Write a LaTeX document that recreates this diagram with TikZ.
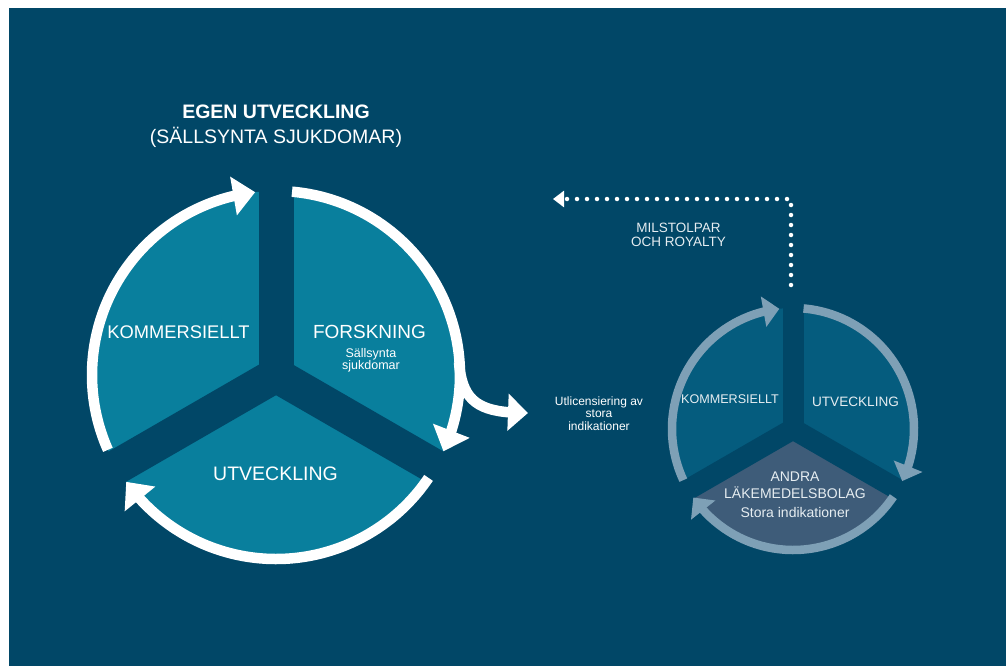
\documentclass[tikz,border=0pt]{standalone}
\usepackage{fontspec}
\setmainfont{Liberation Sans}
\usetikzlibrary{arrows.meta,bending}
\definecolor{bgc}{RGB}{1,71,103}
\definecolor{tealc}{RGB}{9,127,157}
\definecolor{smallup}{RGB}{5,92,126}
\definecolor{smalllow}{RGB}{62,92,121}
\definecolor{smallring}{RGB}{126,160,182}
\definecolor{softwhite}{RGB}{230,237,241}
\begin{document}
\begin{tikzpicture}[x=1pt,y=1pt,
  bigring/.style={draw=white,line width=10.5pt,-{Triangle[width=38pt,length=22pt]}},
  smallringst/.style={draw=smallring,line width=8.5pt,-{Triangle[width=30pt,length=16pt]}},
  gapbig/.style={draw=bgc,line width=35pt},
  gapsmall/.style={draw=bgc,line width=21pt},
  lbl/.style={text=white,inner sep=0pt,anchor=base,align=center},
  slbl/.style={text=softwhite,inner sep=0pt,anchor=base,align=center},
  dotline/.style={draw=white,line width=4.5pt,line cap=round,dash pattern=on 0pt off 10pt,-{Triangle[width=16pt,length=11pt]}}
]
\useasboundingbox (0,0) rectangle (1006,-666);
\fill[white] (0,0) rectangle (1006,-666);
\fill[bgc] (9,-8) rectangle (1006,-666);

% ---------- big cycle ----------
\coordinate (C) at (276,-375);
\fill[tealc] (C) circle[radius=184];
\foreach \a in {90,210,330} \draw[gapbig] (C) -- ++(\a:200);

\draw[bigring] ([shift={(204:184)}]C) arc[start angle=204,end angle=96.5,radius=184];
\draw[bigring] ([shift={(85:184)}]C) arc[start angle=85,end angle=-24.5,radius=184];
\draw[bigring] ([shift={(-34:184)}]C) arc[start angle=-34,end angle=-144.5,radius=184];

% out-licensing arrow
\coordinate (us) at (459,-362);
\coordinate (ue) at (528,-413);
\draw[white,line width=10.5pt,-{Triangle[width=36pt,length=20pt]}] (us) .. controls (462,-403) and (480,-413) .. (ue);

% titles
\node[lbl,font=\bfseries\fontsize{19.5}{22}\selectfont] (title) at (276,-118) {EGEN UTVECKLING};
\node[lbl,font=\fontsize{19.5}{22}\selectfont] (subtitle) at (276,-143) {(SÄLLSYNTA SJUKDOMAR)};

% big labels
\node[lbl,font=\fontsize{18.3}{22}\selectfont] (kom1) at (178.5,-338) {KOMMERSIELLT};
\node[lbl,font=\fontsize{19}{22}\selectfont] (fors) at (369.5,-338) {FORSKNING};
\node[lbl,font=\fontsize{12.5}{14}\selectfont] (sall) at (371,-357) {Sällsynta};
\node[lbl,font=\fontsize{12.5}{14}\selectfont] (sjuk) at (371,-369.5) {sjukdomar};
\node[lbl,font=\fontsize{19.5}{22}\selectfont] (utv1) at (275.5,-480) {UTVECKLING};

% out-licensing text
\node[lbl,font=\fontsize{12}{14}\selectfont] (ut1) at (599,-405) {Utlicensiering av};
\node[lbl,font=\fontsize{12}{14}\selectfont] (ut2) at (599,-417.5) {stora};
\node[lbl,font=\fontsize{12}{14}\selectfont] (ut3) at (599,-430) {indikationer};

% ---------- small cycle ----------
\coordinate (D) at (793,-429);
\fill[smallup] (D) -- ++(90:121) arc[start angle=90,end angle=210,radius=121] -- cycle;
\fill[smallup] (D) -- ++(-30:121) arc[start angle=-30,end angle=90,radius=121] -- cycle;
\fill[smalllow] (D) -- ++(210:121) arc[start angle=210,end angle=330,radius=121] -- cycle;
\foreach \a in {90,210,330} \draw[gapsmall] (D) -- ++(\a:130);

\draw[smallringst] ([shift={(205:121)}]D) arc[start angle=205,end angle=96.5,radius=121];
\draw[smallringst] ([shift={(85:121)}]D) arc[start angle=85,end angle=-25.5,radius=121];
\draw[smallringst] ([shift={(-34:121)}]D) arc[start angle=-34,end angle=-145.5,radius=121];

\node[slbl,font=\fontsize{12.6}{15}\selectfont] (kom2) at (730,-403) {KOMMERSIELLT};
\node[slbl,font=\fontsize{13.6}{15}\selectfont] (utv2) at (855.5,-406) {UTVECKLING};
\node[slbl,font=\fontsize{14}{16}\selectfont] (andra) at (795,-481) {ANDRA};
\node[slbl,font=\fontsize{14}{16}\selectfont] (lake) at (795,-498) {LÄKEMEDELSBOLAG};
\node[slbl,font=\fontsize{14}{16}\selectfont] (stora) at (795,-517) {Stora indikationer};

% milestones dotted arrow
\coordinate (dstart) at (791,-285);
\coordinate (dend) at (553,-199);
\draw[dotline] (dstart) |- (dend);
\node[slbl,font=\fontsize{13.5}{15}\selectfont] (mil1) at (678.5,-232) {MILSTOLPAR};
\node[slbl,font=\fontsize{13.5}{15}\selectfont] (mil2) at (678.5,-246) {OCH ROYALTY};
\end{tikzpicture}
\end{document}
